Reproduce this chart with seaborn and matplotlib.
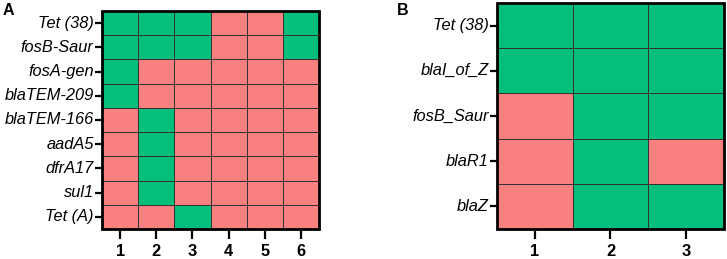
import numpy as np
import pandas as pd
import matplotlib
matplotlib.use("Agg")
import matplotlib.pyplot as plt
import seaborn as sns
from matplotlib.colors import ListedColormap
from matplotlib.patches import Rectangle

# 1 = present (green), 0 = absent (red)
genes_a = ["Tet (38)", "fosB-Saur", "fosA-gen", "blaTEM-209", "blaTEM-166",
           "aadA5", "dfrA17", "sul1", "Tet (A)"]
isolates_a = ["1", "2", "3", "4", "5", "6"]
values_a = [
    [1, 1, 1, 0, 0, 1],
    [1, 1, 1, 0, 0, 1],
    [1, 0, 0, 0, 0, 0],
    [1, 0, 0, 0, 0, 0],
    [0, 1, 0, 0, 0, 0],
    [0, 1, 0, 0, 0, 0],
    [0, 1, 0, 0, 0, 0],
    [0, 1, 0, 0, 0, 0],
    [0, 0, 1, 0, 0, 0],
]

genes_b = ["Tet (38)", "blaI_of_Z", "fosB_Saur", "blaR1", "blaZ"]
isolates_b = ["1", "2", "3"]
values_b = [
    [1, 1, 1],
    [1, 1, 1],
    [0, 1, 1],
    [0, 1, 0],
    [0, 1, 1],
]

green = "#03BF7B"
red = "#F8807F"
cmap = ListedColormap([red, green])

plt.rcParams['font.family'] = ['Liberation Sans', 'DejaVu Sans']

fig = plt.figure(figsize=(7.27, 2.59), dpi=100)
ax_a = fig.add_axes([0.1403, 0.1158, 0.2985, 0.842])
ax_b = fig.add_axes([0.6836, 0.1158, 0.3122, 0.873])


def draw(ax, values, genes, isolates, letter, lx):
    df = pd.DataFrame(values, index=genes, columns=isolates)
    sns.heatmap(df, ax=ax, cmap=cmap, vmin=0, vmax=1, cbar=False,
                linewidths=0.6, linecolor="#333333")
    for s in ax.spines.values():
        s.set_visible(False)
    ax.spines['bottom'].set_position(('outward', 1.5))
    ax.add_patch(Rectangle((0, 0), 1, 1, transform=ax.transAxes, fill=False,
                           edgecolor="black", linewidth=2, clip_on=False, zorder=5))
    ax.tick_params(axis='y', length=5, width=1.6, color="black", pad=1,
                   labelsize=11.8, left=True)
    ax.tick_params(axis='x', length=5.5, width=1.6, color="black", pad=4,
                   labelsize=11.8, bottom=True)
    ax.set_yticklabels(genes, rotation=0, style='italic')
    ax.set_xticklabels(isolates, rotation=0, fontweight='bold')
    ax.set_xlabel("")
    ax.set_ylabel("")
    fig.text(lx, 0.99, letter, fontsize=11.5, fontweight='bold', va='top', ha='left')


draw(ax_a, values_a, genes_a, isolates_a, "A", 0.004)
draw(ax_b, values_b, genes_b, isolates_b, "B", 0.546)

fig.savefig("out.png", dpi=100)
